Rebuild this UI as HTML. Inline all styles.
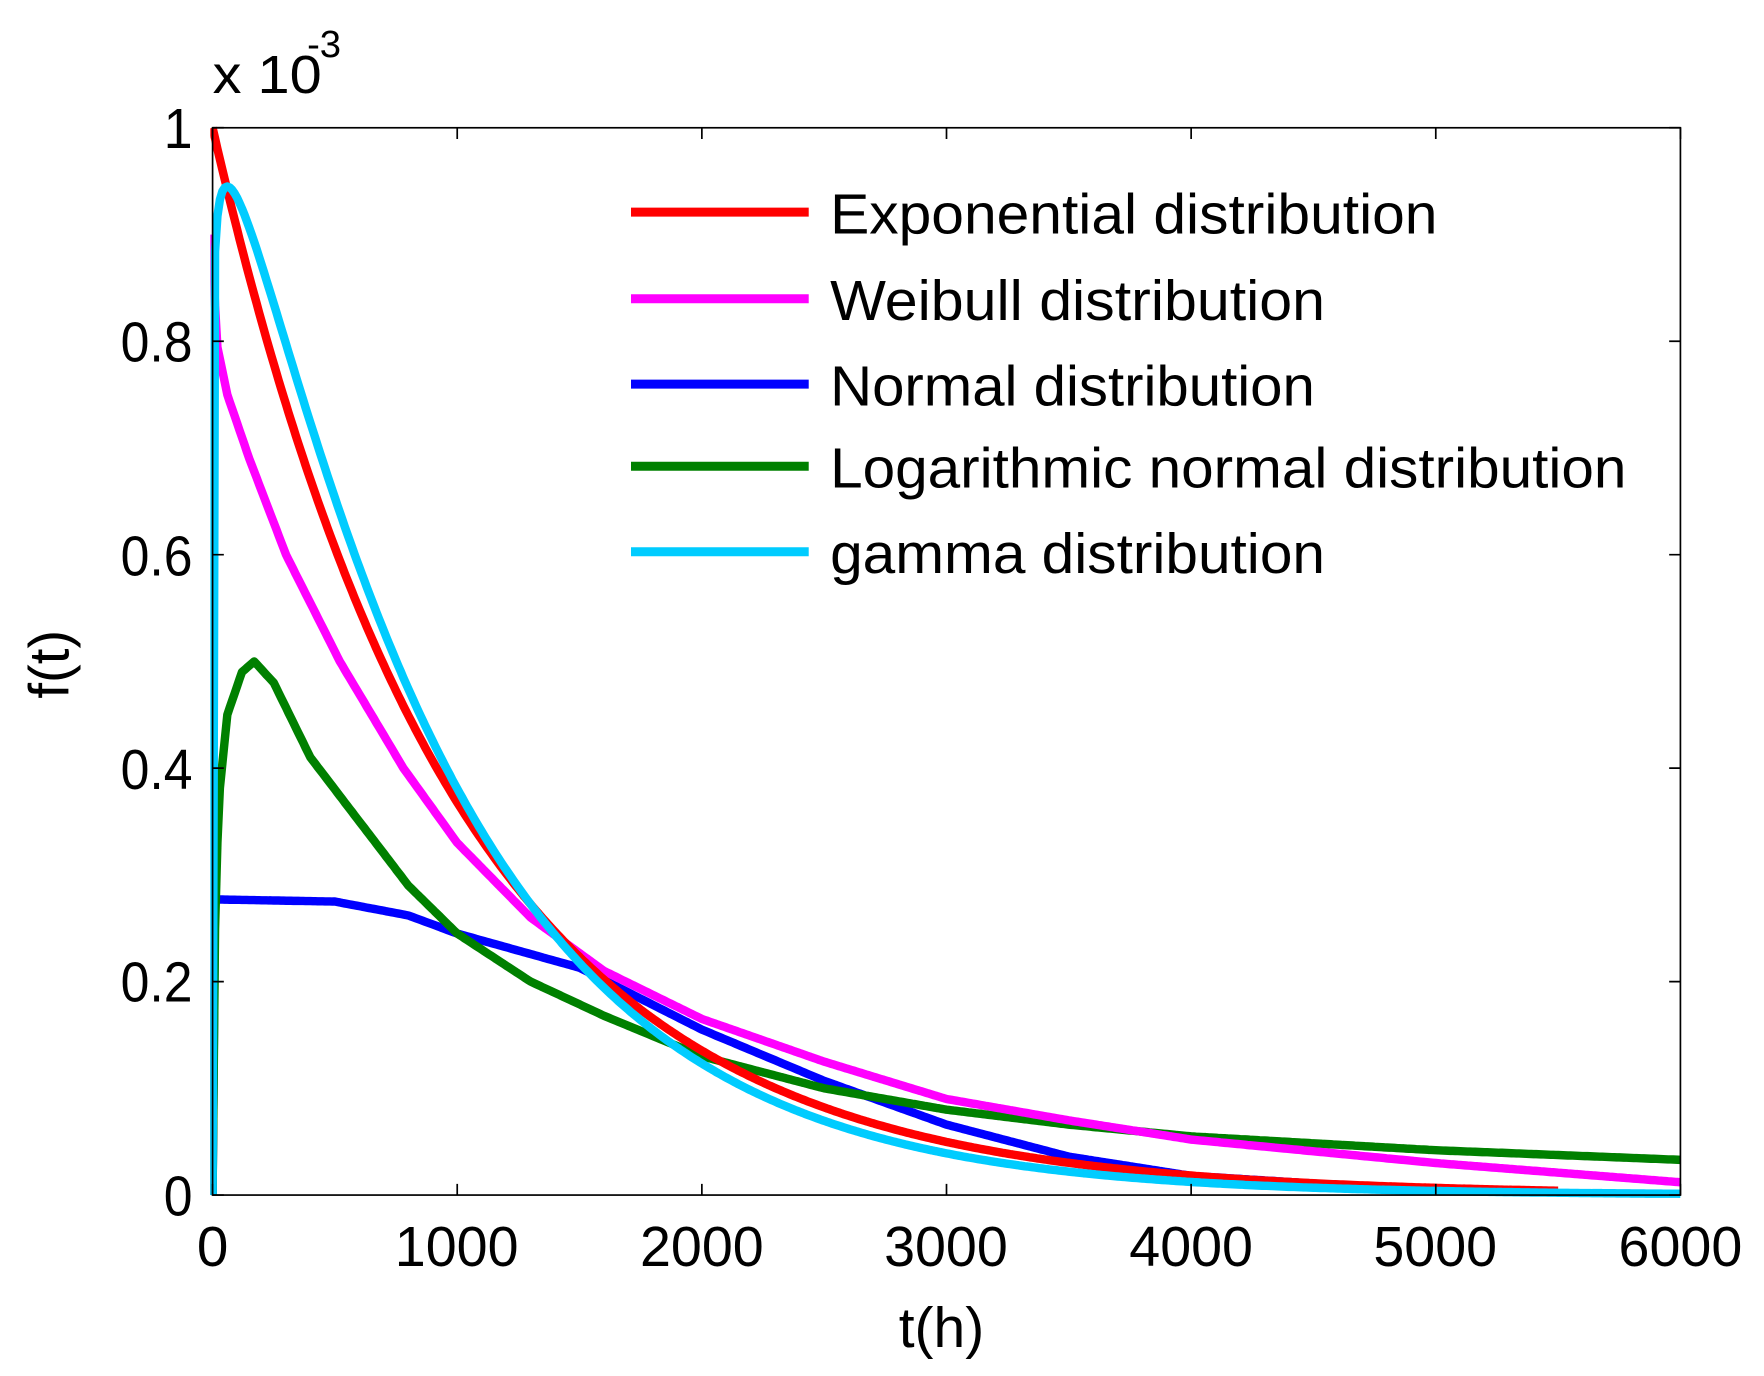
<!DOCTYPE html>
<html><head><meta charset="utf-8">
<style>
html,body{margin:0;padding:0;background:#fff;}
svg{display:block;}
text{font-family:"Liberation Sans",Arial,sans-serif;fill:#000;}
</style></head>
<body>
<svg id="s" width="1764" height="1376" viewBox="0 0 1560 1217" preserveAspectRatio="none" xmlns="http://www.w3.org/2000/svg">
<defs><clipPath id="c"><rect x="186" y="100" width="1309" height="966"/></clipPath></defs>
<rect x="0" y="0" width="1560" height="1217" fill="#fff"/>
<g transform="translate(188,113) scale(0.9947) translate(-188,-113)">
<g id="curves" clip-path="url(#c)" fill="none" stroke-width="7.5" stroke-linejoin="round"></g>
<rect x="188" y="113" width="1305" height="949" fill="none" stroke="#000" stroke-width="1.5"/>
<g id="ticks" stroke="#000" stroke-width="1.5"></g>
<g font-size="50" text-anchor="end" transform="scale(0.92,1)">
<text x="185" y="1080">0</text>
<text x="185" y="890">0.2</text>
<text x="185" y="701">0.4</text>
<text x="185" y="511">0.6</text>
<text x="185" y="321">0.8</text>
<text x="185" y="131">1</text>
</g>
<g font-size="50" text-anchor="middle">
<text x="188" y="1125" textLength="28" lengthAdjust="spacingAndGlyphs">0</text>
<text x="405" y="1125" textLength="110" lengthAdjust="spacingAndGlyphs">1000</text>
<text x="623" y="1125" textLength="110" lengthAdjust="spacingAndGlyphs">2000</text>
<text x="840" y="1125" textLength="110" lengthAdjust="spacingAndGlyphs">3000</text>
<text x="1058" y="1125" textLength="110" lengthAdjust="spacingAndGlyphs">4000</text>
<text x="1275" y="1125" textLength="110" lengthAdjust="spacingAndGlyphs">5000</text>
<text x="1493" y="1125" textLength="110" lengthAdjust="spacingAndGlyphs">6000</text>
<text x="836" y="1197" textLength="76" lengthAdjust="spacingAndGlyphs">t(h)</text>
</g>
<text font-size="48" x="188" y="82" textLength="97" lengthAdjust="spacingAndGlyphs">x 10</text>
<text font-size="34" x="272" y="50">-3</text>
<text font-size="50" text-anchor="middle" transform="translate(60,590) rotate(-90)">f(t)</text>
<g stroke-width="8">
<line x1="560" y1="188" x2="718" y2="188" stroke="#ff0000"/>
<line x1="560" y1="265" x2="718" y2="265" stroke="#ff00ff"/>
<line x1="560" y1="341" x2="718" y2="341" stroke="#0000ff"/>
<line x1="560" y1="414" x2="718" y2="414" stroke="#008000"/>
<line x1="560" y1="490" x2="718" y2="490" stroke="#00ccff"/>
</g>
<g font-size="50" lengthAdjust="spacingAndGlyphs">
<text x="737" y="207" textLength="540" lengthAdjust="spacingAndGlyphs">Exponential distribution</text>
<text x="737" y="284" textLength="440" lengthAdjust="spacingAndGlyphs">Weibull distribution</text>
<text x="737" y="360" textLength="431" lengthAdjust="spacingAndGlyphs">Normal distribution</text>
<text x="737" y="433" textLength="708" lengthAdjust="spacingAndGlyphs">Logarithmic normal distribution</text>
<text x="737" y="509" textLength="440" lengthAdjust="spacingAndGlyphs">gamma distribution</text>
</g>
</g>
</svg>
<script>
(function(){
var X=function(t){return 188+t/6000*1305;}, Y=function(v){return 1062-v*949;};
var NS="http://www.w3.org/2000/svg";
var tk=document.getElementById("ticks"), d="";
for(var i=0;i<=6;i++){var x=X(i*1000);d+="M"+x+" 1062V1052M"+x+" 113V123";}
for(var j=0;j<=5;j++){var y=Y(j*0.2);d+="M188 "+y+"H198M1493 "+y+"H1483";}
var p=document.createElementNS(NS,"path");p.setAttribute("d",d);tk.appendChild(p);
function path(f,t0,t1,col,pre){
  var s=pre||"";var first=!pre;
  for(var t=t0;t<=t1;t+=10){var v=Math.max(0,f(t));s+=(first?"M":"L")+X(t).toFixed(1)+" "+Y(v).toFixed(1);first=false;}
  var e=document.createElementNS(NS,"path");e.setAttribute("d",s);e.setAttribute("stroke",col);
  document.getElementById("curves").appendChild(e);
}
function interp(pts){return function(t){for(var i=1;i<pts.length;i++){if(t<=pts[i][0]){var a=pts[i-1],b=pts[i];return a[1]+(b[1]-a[1])*(t-a[0])/(b[0]-a[0]);}}return pts[pts.length-1][1];};}
// normal
path(interp([[0,0],[10,0.277],[500,0.275],[800,0.262],[1000,0.245],[1500,0.213],[2000,0.155],[2500,0.107],[3000,0.066],[3500,0.036],[4000,0.018],[4700,0.008],[6000,0.004]]),0,4700,"#0000ff");
// lognormal
path(interp([[0,0],[10,0.25],[25,0.37],[60,0.45],[120,0.49],[170,0.5],[250,0.48],[400,0.41],[600,0.35],[800,0.29],[1000,0.245],[1300,0.2],[1600,0.168],[2000,0.13],[2500,0.1],[3000,0.08],[3500,0.066],[4000,0.055],[5000,0.042],[6000,0.033]]),0,6000,"#008000");
// weibull
path(interp([[0,0.9],[15,0.8],[60,0.75],[150,0.69],[300,0.6],[520,0.5],[780,0.4],[1000,0.33],[1300,0.26],[1600,0.21],[2000,0.165],[2500,0.125],[3000,0.09],[3500,0.07],[4000,0.052],[5000,0.03],[6000,0.012]]),0,6000,"#ff00ff");
// exponential
path(function(t){return Math.exp(-t/1000);},0,5500,"#ff0000");
// gamma
var gf=function(t){return Math.pow(t,0.07)*Math.exp(-t/850);};var gn=0.945/gf(60);
path(function(t){return gn*gf(t);},10,6000,"#00ccff","M"+X(0)+" "+Y(0));
})();
</script>
</body></html>
